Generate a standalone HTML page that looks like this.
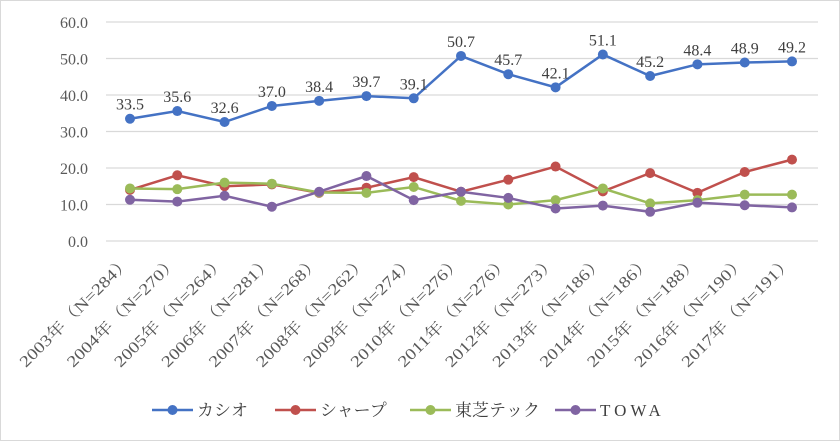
<!DOCTYPE html>
<html><head><meta charset="utf-8"><style>
html,body{margin:0;padding:0;background:#fff}
svg{display:block;font-family:"Liberation Serif","Noto Serif CJK SC",serif}
</style></head><body>
<svg id="chart" width="840" height="441" viewBox="0 0 840 441">
<rect x="0.5" y="0.5" width="839" height="440" fill="#fff" stroke="#d9d9d9"/>
<g id="grid"></g><g id="xl"></g><g id="series"></g><g id="legend"></g>
</svg>
<script>
const categories=["2003年（N=284）","2004年（N=270）","2005年（N=264）","2006年（N=281）","2007年（N=268）","2008年（N=262）","2009年（N=274）","2010年（N=276）","2011年（N=276）","2012年（N=273）","2013年（N=186）","2014年（N=186）","2015年（N=188）","2016年（N=190）","2017年（N=191）"];
const casio=[33.5,35.6,32.6,37.0,38.4,39.7,39.1,50.7,45.7,42.1,51.1,45.2,48.4,48.9,49.2];
const sharp=[14.0,18.0,15.0,15.5,13.2,14.6,17.5,13.5,16.8,20.4,13.6,18.6,13.2,18.9,22.3];
const toshiba=[14.4,14.2,16.0,15.7,13.3,13.2,14.8,11.0,10.0,11.2,14.4,10.3,11.2,12.7,12.7];
const towa=[11.3,10.8,12.4,9.4,13.5,17.8,11.2,13.5,11.8,8.9,9.7,8.0,10.5,9.8,9.2];
const yTicks=[0,10,20,30,40,50,60];
const names=["カシオ","シャープ","東芝テック","TOWA"];
const ns="http://www.w3.org/2000/svg";
const X0=130,X1=792,Y0=241,Y1=22;
const xs=i=>X0+(X1-X0)*i/(categories.length-1);
const ys=v=>Y0-(Y0-Y1)*v/60;
function mk(t,a,p){const e=document.createElementNS(ns,t);for(const k in a)e.setAttribute(k,a[k]);p.appendChild(e);return e;}
const grid=document.getElementById('grid');
yTicks.forEach(v=>{
 const l=mk('line',{x1:106,x2:818,y1:ys(v),y2:ys(v),stroke:'#d9d9d9','stroke-width':1.3},grid);
 
 
 const t=mk('text',{x:88,y:ys(v)+6,'text-anchor':'end','font-size':16,fill:'#595959'},grid);
 t.textContent=v.toFixed(1);
 
 
});
const xl=document.getElementById('xl');
categories.forEach((c,i)=>{
 const x=xs(i)+2,y=262;
 const t=mk('text',{x:x,y:y,'text-anchor':'end','font-size':16,fill:'#595959',textLength:150,lengthAdjust:'spacingAndGlyphs',transform:`rotate(-45 ${x} ${y})`},xl);
 t.textContent=c;
 
 
});
const colors=["#4472c4","#c0504d","#9bbb59","#8064a2"];
const data=[casio,sharp,toshiba,towa];
const sg=document.getElementById('series');
data.forEach((d,s)=>{
 const g=mk('g',{},sg);
 
 
 const p=mk('polyline',{points:d.map((v,i)=>xs(i)+','+ys(v)).join(' '),fill:'none',stroke:colors[s],'stroke-width':2.5},g);
 
 
 d.forEach((v,i)=>{
  const c=mk('circle',{cx:xs(i),cy:ys(v),r:5,fill:colors[s]},g);
  
  
  if(s===0){
   const t=mk('text',{x:xs(i),y:ys(v)-9,'text-anchor':'middle','font-size':16,fill:'#404040'},g);
   t.textContent=v.toFixed(1);
   
   
  }
 });
});
const lg=document.getElementById('legend');
const lx=[152,275,410,555];
names.forEach((n,s)=>{
 const g=mk('g',{},lg);
 
 
 mk('line',{x1:lx[s],x2:lx[s]+41,y1:410,y2:410,stroke:colors[s],'stroke-width':2.5},g);
 mk('circle',{cx:lx[s]+20.5,cy:410,r:5,fill:colors[s]},g);
 const t=mk('text',{x:lx[s]+45,y:416,'font-size':17,fill:'#404040'},g);
 t.textContent=n;
 if(s===3)t.setAttribute('letter-spacing','4');
});
</script>
</body></html>
